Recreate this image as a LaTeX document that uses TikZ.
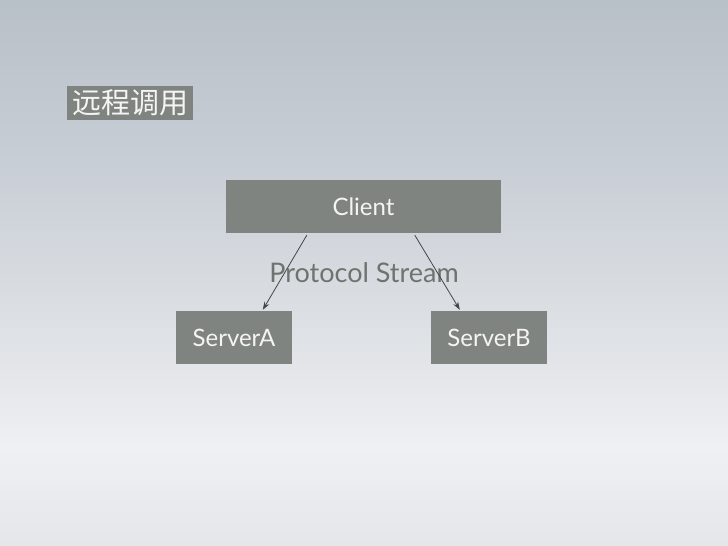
\documentclass[tikz,border=0pt]{standalone}
\usepackage{fontspec}
\setmainfont{Lato}
\newfontfamily\cjk{Noto Sans CJK SC}
\usetikzlibrary{arrows.meta}
\definecolor{boxgray}{HTML}{7F8480}
\definecolor{labelwhite}{HTML}{F4F4F4}
\definecolor{streamgray}{HTML}{6E736F}
\definecolor{arrowgray}{HTML}{434644}
\definecolor{bgtop}{HTML}{B8C0C8}
\definecolor{bgupper}{HTML}{C8CED5}
\definecolor{bgmid}{HTML}{DFE2E6}
\definecolor{bglight}{HTML}{EEF0F2}
\definecolor{bgbot}{HTML}{E4E7EA}
\pgfdeclareverticalshading{slidebg}{100bp}{
  color(0bp)=(bgbot); color(25bp)=(bgbot); color(34bp)=(bglight);
  color(44bp)=(bgmid); color(60bp)=(bgupper); color(75bp)=(bgtop); color(100bp)=(bgtop)}
\tikzset{
  box/.style={fill=boxgray, text=labelwhite, inner sep=0pt, font=\fontsize{24}{28}\selectfont},
  link/.style={draw=arrowgray, line width=0.8pt, -{Stealth[length=8pt,width=5.5pt]}}
}
\begin{document}
\begin{tikzpicture}[x=1pt,y=-1pt]
\useasboundingbox (0,0) rectangle (728,546);
\shade[shading=slidebg] (0,0) rectangle (728,546);
\node[box, minimum width=126pt, minimum height=34pt, font=\cjk\fontsize{29}{32}\selectfont] (title) at (130,103) {远程调用};
\node[box, minimum width=275pt, minimum height=53pt] (client) at (363.5,206.5) {Client};
\node[box, minimum width=116pt, minimum height=53pt] (serverA) at (234,337.5) {ServerA};
\node[box, minimum width=116pt, minimum height=53pt] (serverB) at (489,337.5) {ServerB};
\node[text=streamgray, font=\fontsize{27}{30}\selectfont, inner sep=0pt] (stream) at (364,273) {Protocol Stream};
\draw[link] ([xshift=81pt,yshift=-2pt]client.south west) -- ([xshift=87pt,yshift=1pt]serverA.north west);
\draw[link] ([xshift=189pt,yshift=-2pt]client.south west) -- ([xshift=29pt,yshift=1pt]serverB.north west);
\end{tikzpicture}
\end{document}
